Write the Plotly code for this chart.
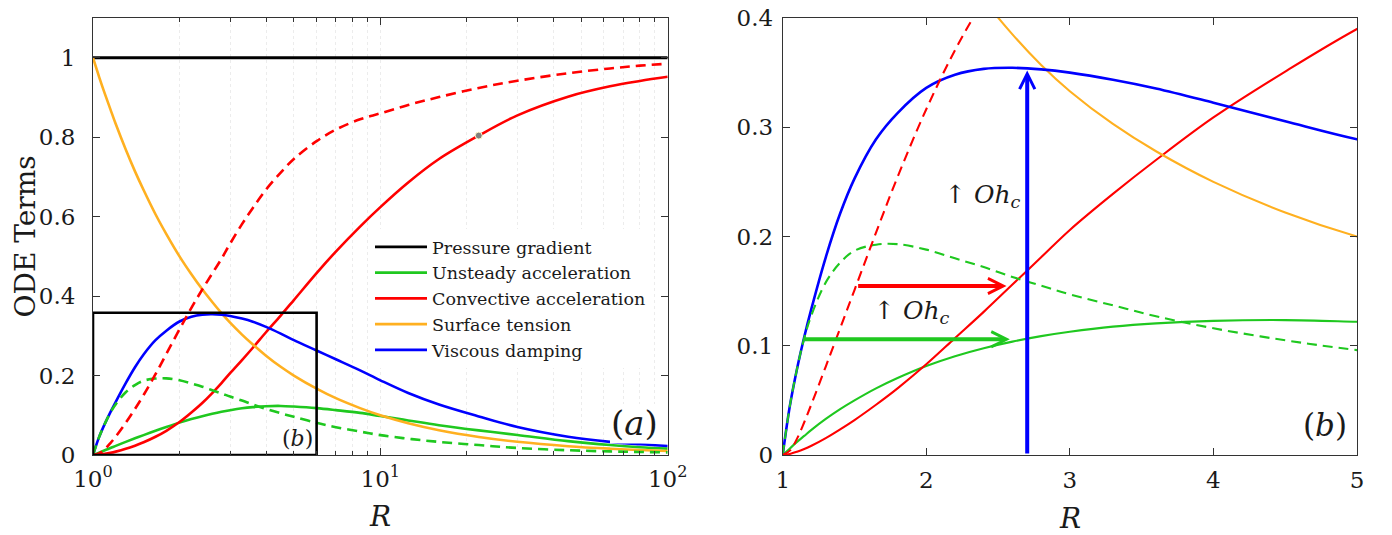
import plotly.graph_objects as go

# ---------------- data ----------------
R = [1.0, 1.05, 1.1, 1.15, 1.2, 1.3, 1.4, 1.5, 1.65, 1.8, 2.0, 2.2, 2.4, 2.6, 2.8,
     3.0, 3.3, 3.6, 4.0, 4.5, 5.0, 6.0, 7.0, 8.5, 10, 12.5, 16, 22, 30, 45, 63, 80, 100]

pressure_gradient = [1.0, 1.0, 1.0, 1.0, 1.0, 1.0, 1.0, 1.0, 1.0, 1.0, 1.0, 1.0, 1.0, 1.0, 1.0,
                     1.0, 1.0, 1.0, 1.0, 1.0, 1.0, 1.0, 1.0, 1.0, 1.0, 1.0, 1.0, 1.0, 1.0, 1.0,
                     1.0, 1.0, 1.0]

unsteady_solid = [0, 0.006, 0.012, 0.0175, 0.023, 0.033, 0.042, 0.050, 0.061, 0.0705, 0.0815,
                  0.0905, 0.0978, 0.1038, 0.1088, 0.1128, 0.1175, 0.1205, 0.1228, 0.1235, 0.122,
                  0.118, 0.113, 0.106, 0.098, 0.087, 0.075, 0.062, 0.0505, 0.035, 0.025,
                  0.0195, 0.016]

unsteady_dashed = [0, 0.045, 0.079, 0.107, 0.128, 0.158, 0.176, 0.187, 0.1925, 0.193, 0.188,
                   0.180, 0.172, 0.163, 0.155, 0.147, 0.137, 0.127, 0.116, 0.105, 0.096,
                   0.081, 0.070, 0.059, 0.050, 0.041, 0.033, 0.025, 0.0177, 0.012, 0.009,
                   0.0076, 0.0066]

convective_solid = [0, 0.001, 0.003, 0.0055, 0.0085, 0.0155, 0.0235, 0.032, 0.046, 0.061, 0.083,
                    0.107, 0.131, 0.156, 0.181, 0.206, 0.239, 0.270, 0.309, 0.351, 0.390,
                    0.458, 0.512, 0.575, 0.624, 0.686, 0.745, 0.804, 0.855, 0.902, 0.928,
                    0.9415, 0.952]

convective_dashed = [0, 0.004, 0.015, 0.030, 0.0465, 0.081, 0.116, 0.151, 0.2035, 0.2545, 0.3165,
                     0.3705, 0.4165, 0.457, 0.494, 0.532, 0.581, 0.622, 0.668, 0.711, 0.745,
                     0.790, 0.819, 0.845, 0.860, 0.881, 0.901, 0.924, 0.942, 0.961, 0.973,
                     0.980, 0.985]

surface_tension = [1.0, 0.952, 0.909, 0.870, 0.833, 0.769, 0.714, 0.667, 0.606, 0.556, 0.500,
                   0.455, 0.417, 0.385, 0.357, 0.333, 0.303, 0.278, 0.250, 0.222, 0.200,
                   0.167, 0.143, 0.118, 0.100, 0.080, 0.0625, 0.0455, 0.0333, 0.0222, 0.0159,
                   0.0125, 0.010]

viscous_damping = [0, 0.045, 0.079, 0.108, 0.134, 0.181, 0.221, 0.253, 0.289, 0.313, 0.336,
                   0.348, 0.3534, 0.3544, 0.353, 0.350, 0.3435, 0.3355, 0.3225, 0.3055, 0.289,
                   0.263, 0.241, 0.213, 0.188, 0.156, 0.127, 0.097, 0.0705, 0.046, 0.033,
                   0.027, 0.0225]

marker_R = [22]
marker_val = [0.804]

inset_box_R = [1, 6, 6, 1, 1]
inset_box_val = [0, 0, 0.358, 0.358, 0]

legend_names = ["Pressure gradient", "Unsteady acceleration", "Convective acceleration",
                "Surface tension", "Viscous damping"]

left_xticks = [1, 10, 100]
left_xticklabels = ["10<sup>0</sup>", "10<sup>1</sup>", "10<sup>2</sup>"]
left_yticks = [0, 0.2, 0.4, 0.6, 0.8, 1.0]
left_yticklabels = ["0", "0.2", "0.4", "0.6", "0.8", "1"]
right_xticks = [1, 2, 3, 4, 5]
right_xticklabels = ["1", "2", "3", "4", "5"]
right_yticks = [0, 0.1, 0.2, 0.3, 0.4]
right_yticklabels = ["0", "0.1", "0.2", "0.3", "0.4"]

# arrows in panel (b): (tail R, tail value, head R, head value)
red_arrow = (1.515, 0.1547, 2.559, 0.1547)
green_arrow = (1.143, 0.1059, 2.582, 0.1059)
blue_arrow = (2.703, 0.0, 2.703, 0.352)

# ---------------- styling ----------------
FONT = "DejaVu Serif"
BLACK = "#000000"
GREEN = "#1fc81f"
RED = "#ff0000"
ORANGE = "#ffb020"
BLUE = "#0000ff"
AXC = "#333333"
TXT = "#1a1a1a"
DASH = "10px,6px"

fig = go.Figure()

series = [
    (pressure_gradient, BLACK, "solid", legend_names[0]),
    (unsteady_solid, GREEN, "solid", legend_names[1]),
    (convective_solid, RED, "solid", legend_names[2]),
    (surface_tension, ORANGE, "solid", legend_names[3]),
    (viscous_damping, BLUE, "solid", legend_names[4]),
    (unsteady_dashed, GREEN, DASH, None),
    (convective_dashed, RED, DASH, None),
]

for panel in (1, 2):
    xa = "x" if panel == 1 else "x2"
    ya = "y" if panel == 1 else "y2"
    for vals, col, dash, name in series:
        if panel == 1:
            w = 2.8 if col == BLACK else 2.6
        else:
            w = 2.6 if col == BLUE else 2.1
        fig.add_trace(go.Scatter(
            x=R, y=vals, mode="lines", xaxis=xa, yaxis=ya,
            line=dict(color=col, width=w, dash=dash, shape="spline", smoothing=1.0),
            name=name if name else "", showlegend=(panel == 1 and name is not None),
            hoverinfo="skip"))

# inset box (b) on panel (a)
fig.add_trace(go.Scatter(x=inset_box_R, y=inset_box_val, mode="lines", xaxis="x", yaxis="y",
                         line=dict(color=BLACK, width=2.6), showlegend=False, hoverinfo="skip"))
# grey marker on the convective curve
fig.add_trace(go.Scatter(x=marker_R, y=marker_val, mode="markers", xaxis="x", yaxis="y",
                         marker=dict(color="#808080", size=7, line=dict(color="#fff8c8", width=1)),
                         showlegend=False, hoverinfo="skip"))

# page is drawn with an 8px body margin: figure is 8px smaller than the window
W, H = 1384, 527
L, Rm, T, B = 85, 35, 10, 80
PW = W - L - Rm
PH = H - T - B
OFF = 8


def px(xw):  # window x -> paper
    return (xw - OFF - L) / PW


def py(yw):  # window y -> paper
    return (H - B - (yw - OFF)) / PH


axis_common = dict(showline=True, linecolor=AXC, linewidth=1, mirror="allticks",
                   ticks="inside", tickcolor=AXC, zeroline=False, showgrid=False,
                   ticklabeloverflow="allow",
                   tickfont=dict(family=FONT, size=23, color=TXT))

fig.update_layout(
    width=W, height=H,
    margin=dict(l=L, r=Rm, t=T, b=B, autoexpand=False),
    paper_bgcolor="white", plot_bgcolor="white",
    font=dict(family=FONT, color=TXT),
    xaxis=dict(type="log", range=[0, 2], domain=[0, px(667.7)], anchor="y",
               tickvals=left_xticks, ticktext=left_xticklabels, ticklen=7,
               ticklabelstandoff=3,
               minor=dict(ticks="inside", ticklen=4, dtick="D1", tickcolor=AXC,
                          showgrid=True, gridcolor="#ececec", griddash="dot", gridwidth=1),
               **axis_common),
    yaxis=dict(range=[0, 1.1], domain=[0, 1], anchor="x",
               tickvals=left_yticks, ticktext=left_yticklabels, ticklen=7,
               ticklabelstandoff=12, **axis_common),
    xaxis2=dict(range=[1, 5], domain=[px(782.7), 1], anchor="y2",
                tickvals=right_xticks, ticktext=right_xticklabels, ticklen=7,
                ticklabelstandoff=4, **axis_common),
    yaxis2=dict(range=[0, 0.4], domain=[0, 1], anchor="x2",
                tickvals=right_yticks, ticktext=right_yticklabels, ticklen=7,
                ticklabelstandoff=4, **axis_common),
    legend=dict(x=px(370), y=py(229), xanchor="left", yanchor="top",
                bgcolor="white", borderwidth=0, itemwidth=52,
                font=dict(family=FONT, size=17.5, color=TXT)),
    showlegend=True,
)

# white background of the (a) label
fig.add_shape(type="rect", xref="paper", yref="paper",
              x0=px(610), x1=px(658), y0=py(443.5), y1=py(404),
              fillcolor="white", line=dict(width=0), layer="above")

ann = []
ann.append(dict(text="ODE Terms", x=px(25), y=0.5, xref="paper", yref="paper",
                textangle=-90, showarrow=False, font=dict(family=FONT, size=28, color=TXT),
                xanchor="center", yanchor="middle"))
ann.append(dict(text="<i>R</i>", x=px(380.2), y=py(516), xref="paper", yref="paper",
                showarrow=False, font=dict(family=FONT, size=28, color=TXT),
                xanchor="center", yanchor="middle"))
ann.append(dict(text="<i>R</i>", x=px(1070), y=py(518), xref="paper", yref="paper",
                showarrow=False, font=dict(family=FONT, size=28, color=TXT),
                xanchor="center", yanchor="middle"))
ann.append(dict(text="(<i>a</i>)", x=px(634), y=py(423), xref="paper", yref="paper",
                showarrow=False, font=dict(family=FONT, size=34, color=TXT),
                xanchor="center", yanchor="middle"))
ann.append(dict(text="(<i>b</i>)", x=px(297.7), y=py(438.3), xref="paper", yref="paper",
                showarrow=False, font=dict(family=FONT, size=22, color=TXT),
                xanchor="center", yanchor="middle"))
ann.append(dict(text="(<i>b</i>)", x=px(1325), y=py(425), xref="paper", yref="paper",
                showarrow=False, font=dict(family=FONT, size=31, color=TXT),
                xanchor="center", yanchor="middle"))
ann.append(dict(text="↑ <i>Oh<sub>c</sub></i>", x=2.394, y=0.237, xref="x2", yref="y2",
                showarrow=False, font=dict(family=FONT, size=25, color=TXT),
                xanchor="center", yanchor="middle"))
ann.append(dict(text="↑ <i>Oh<sub>c</sub></i>", x=1.90, y=0.131, xref="x2", yref="y2",
                showarrow=False, font=dict(family=FONT, size=25, color=TXT),
                xanchor="center", yanchor="middle"))

for (x0, y0, x1, y1), col in ((red_arrow, RED), (green_arrow, GREEN), (blue_arrow, BLUE)):
    ann.append(dict(text="", x=x1, y=y1, ax=x0, ay=y0, xref="x2", yref="y2",
                    axref="x2", ayref="y2", showarrow=True, arrowhead=5, arrowsize=0.75,
                    arrowwidth=4, arrowcolor=col, standoff=0, startstandoff=0))

fig.update_layout(annotations=ann)

fig.write_html("out.html")
